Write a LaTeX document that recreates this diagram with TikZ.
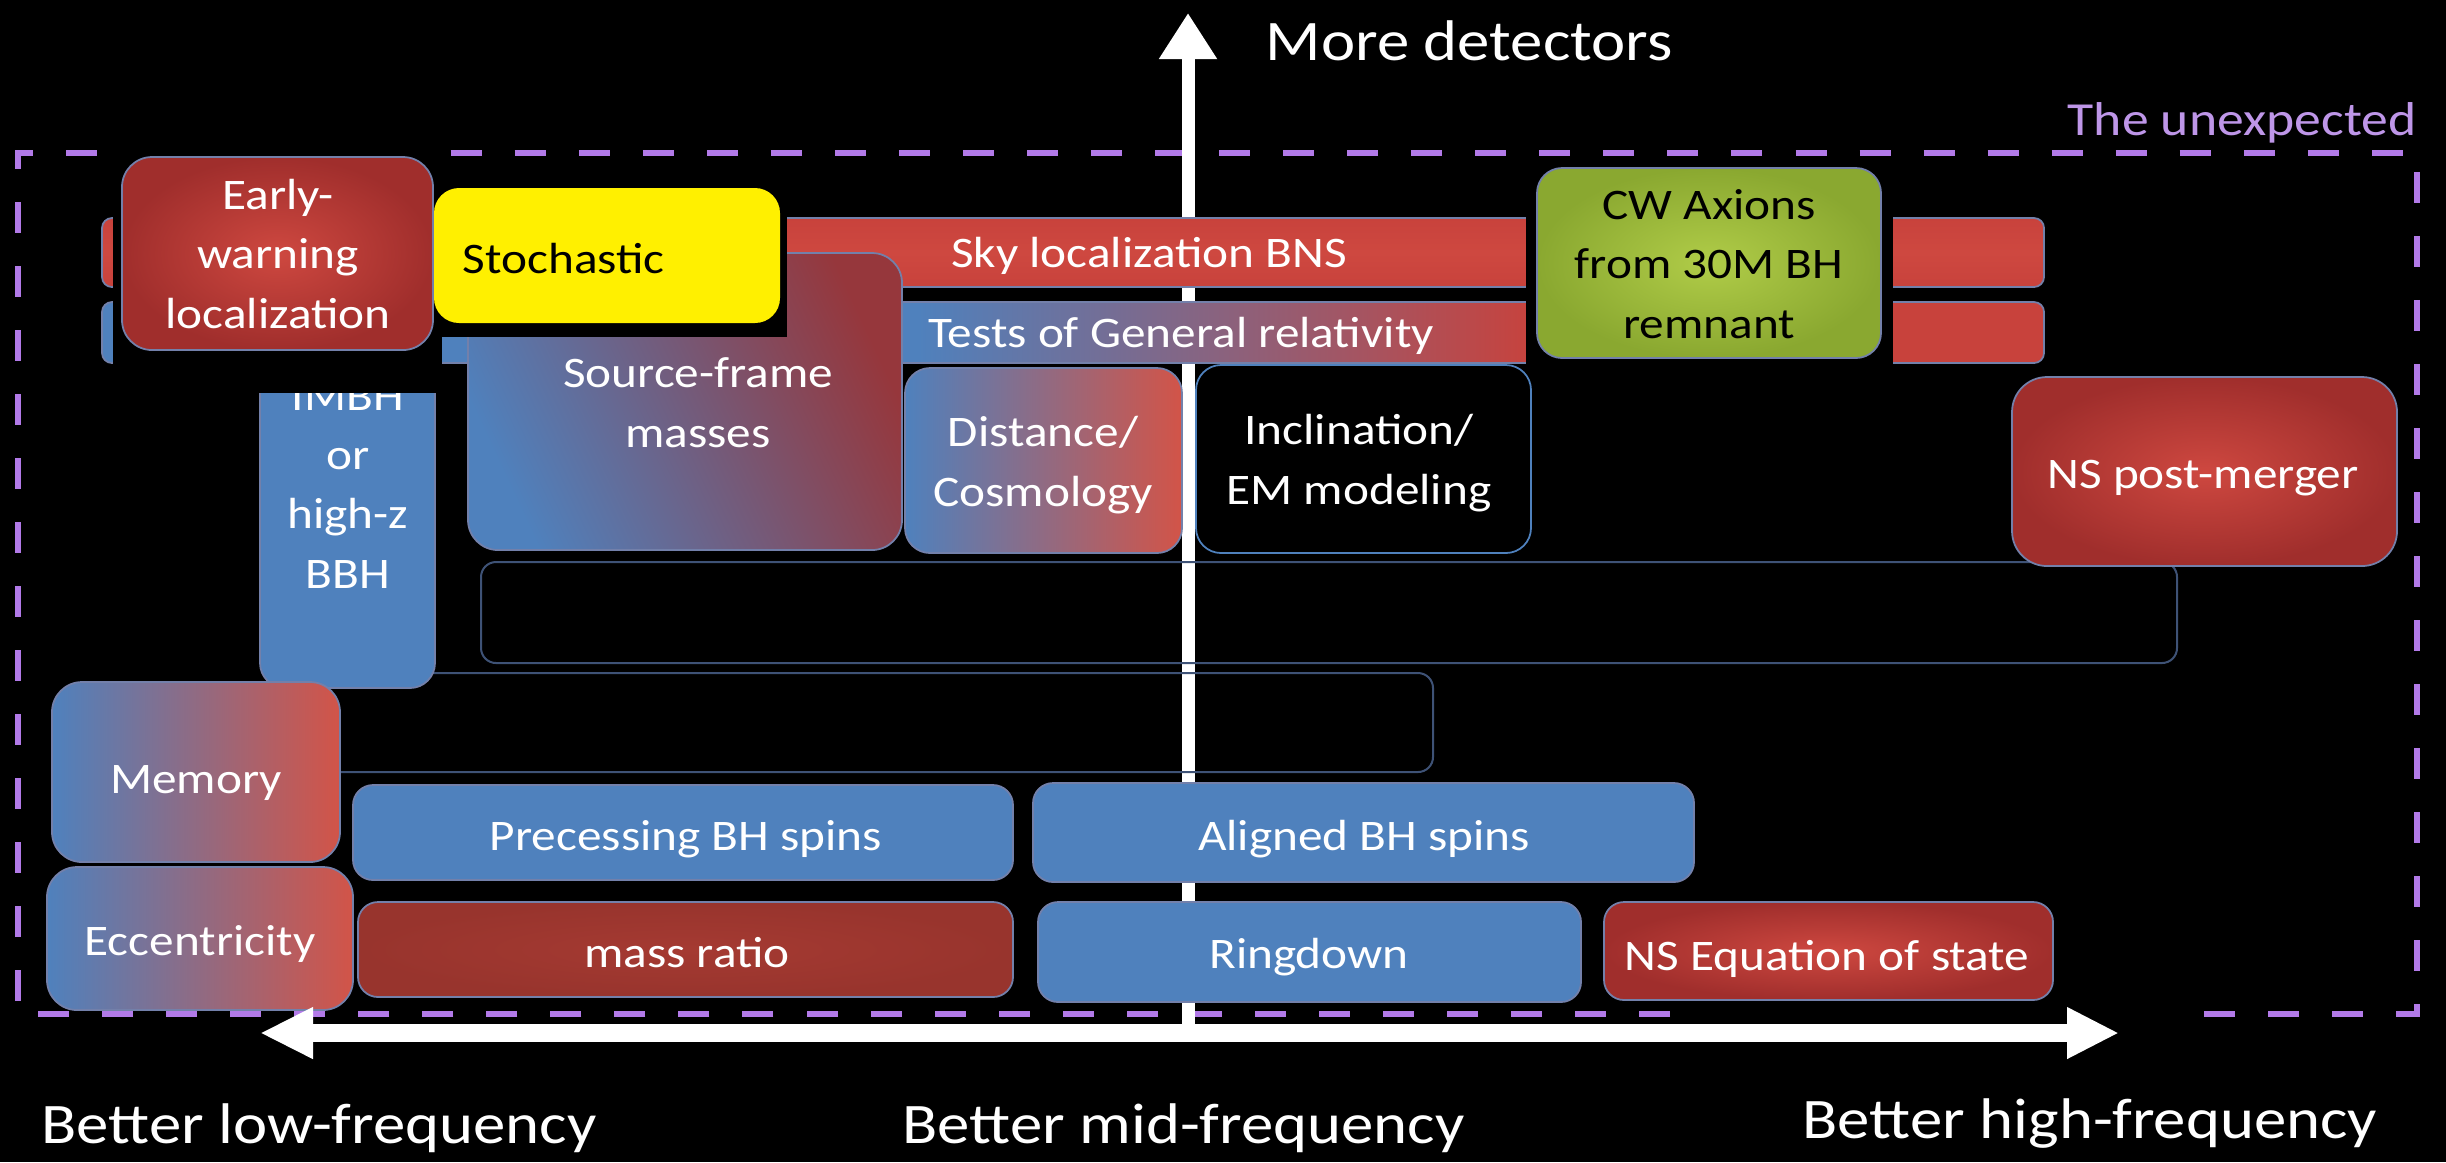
\documentclass[tikz,border=0pt]{standalone}
\usepackage{fontspec}
\setmainfont{Carlito}[FakeStretch=1.13]
\usetikzlibrary{arrows.meta,fit}
\definecolor{gwblue}{RGB}{79,129,189}
\definecolor{gwred}{RGB}{200,66,60}
\definecolor{gwredlt}{RGB}{206,72,64}
\definecolor{gwreddk}{RGB}{160,46,44}
\definecolor{gwmred}{RGB}{210,84,72}
\definecolor{gwsfred}{RGB}{150,55,60}
\definecolor{gwmass}{RGB}{152,52,45}
\definecolor{gwmasslt}{RGB}{165,58,50}
\definecolor{gwgreen}{RGB}{138,168,48}
\definecolor{gwgreenlt}{RGB}{176,204,72}
\definecolor{gwyellow}{RGB}{255,240,0}
\definecolor{gwpurp}{RGB}{178,122,232}
\definecolor{gwpurptxt}{RGB}{190,150,232}
\definecolor{gwedge}{RGB}{115,128,170}
\definecolor{gwoutline}{RGB}{62,82,118}
\pgfdeclarehorizontalshading{testshade}{100bp}{color(0bp)=(gwblue); color(46bp)=(gwblue); color(62bp)=(gwred); color(100bp)=(gwred)}
\newcommand\gwbox{\fontsize{12.4}{16.8}\selectfont}
\newcommand\gwaxis{\fontsize{16.3}{19}\selectfont}
\newcommand\gwunex{\fontsize{13.5}{16}\selectfont}
\begin{document}
\begin{tikzpicture}[x=0.01cm,y=-0.01cm,
  box/.style={inner sep=0pt, outer sep=0pt, rounded corners=0.2cm, draw=gwedge, line width=0.5pt},
  bluebox/.style={box, fill=gwblue},
  redbox/.style={box, inner color=gwredlt, outer color=gwreddk},
  mixbox/.style={box, left color=gwblue, right color=gwmred},
  txt/.style={text=white, font=\gwbox, inner sep=0pt, anchor=base, align=center},
  dtxt/.style={txt, text=black},
  axislbl/.style={text=white, font=\gwaxis, inner sep=0pt, anchor=base west},
  mask/.style={fill=black}
]
\fill[black] (0,0) rectangle (2446,1162);
\useasboundingbox (0,0) rectangle (2446,1162);

% dashed frame "The unexpected"
\draw[gwpurp, line width=0.06cm, dash pattern=on 0.31cm off 0.33cm]
  (1670,1014) -- (18,1014) -- (18,153) -- (2417,153) -- (2417,1014) -- (2196,1014);
\node[text=gwpurptxt, font=\gwunex, inner sep=0pt, anchor=base east] (unex) at (2417,135) {The unexpected};

% vertical axis
\coordinate (vbot) at (1188,1033);
\coordinate (vtop) at (1188,13);
\draw[white, line width=0.13cm, -{Triangle[length=0.46cm,width=0.55cm]}] (vbot) -- (vtop);
\node[axislbl] (more) at (1265,60) {More detectors};

% long bars
\node[box, fit={(102,218) (2044,287)}, rounded corners=0.1cm, top color=gwred, bottom color=gwred, middle color=gwredlt] (sky) {};
\node[box, fit={(102,302) (2044,363)}, rounded corners=0.1cm, shading=testshade] (tests) {};
\node[txt] (skyt) at (1149,267) {Sky localization BNS};
\node[txt] (testst) at (1181,347) {Tests of General relativity};

% CW axions
\fill[mask] (1526,160) rectangle (1893,366);
\node[box, fit={(1537,168) (1881,358)}, rounded corners=0.25cm, inner color=gwgreenlt, outer color=gwgreen] (cw) {};
\node[dtxt] (cwt) at (1709,338) {CW Axions\\from 30M BH\\remnant};

% Source-frame masses
\node[box, fit={(468,253) (902,550)}, rounded corners=0.3cm, left color=gwblue, right color=gwsfred, shading angle=115] (sf) {};
\node[txt] (sft) at (698,447) {Source-frame\\masses};

% outlined empty boxes
\node[inner sep=0pt, rounded corners=0.15cm, draw=gwoutline, line width=0.02cm, fit={(481,562) (2177,663)}] (emptyA) {};
\node[inner sep=0pt, rounded corners=0.15cm, draw=gwoutline, line width=0.02cm, fit={(300,673) (1433,772)}] (emptyB) {};

% IMBH
\node[bluebox, fit={(260,340) (435,688)}, rounded corners=0.25cm] (imbh) {};
\node[txt] (imbht) at (348,588) {IMBH\\or\\high-z\\BBH};

% masks around early warning and stochastic
\fill[mask] (113,145) rectangle (442,393);
\fill[mask] (434,182) rectangle (787,337);

% Stochastic
\node[box, fit={(434,188) (780,323)}, rounded corners=0.25cm, fill=gwyellow, draw=none] (stoch) {};
\node[dtxt, anchor=base west] (stocht) at (462,273) {Stochastic};

% Early warning
\node[redbox, fit={(122,157) (433,350)}, rounded corners=0.3cm] (ew) {};
\node[txt] (ewt) at (278,328) {Early-\\warning\\localization};

% Distance / Inclination
\node[mixbox, fit={(905,368) (1182,553)}, rounded corners=0.25cm] (dist) {};
\node[txt] (distt) at (1043,506) {Distance/\\Cosmology};
\node[box, fit={(1196,365) (1531,553)}, rounded corners=0.25cm, fill=black, draw=gwblue] (incl) {};
\node[txt] (inclt) at (1359,504) {Inclination/\\EM modeling};

% NS post-merger
\node[redbox, fit={(2012,377) (2397,566)}, rounded corners=0.35cm] (nspm) {};
\node[txt] (nspmt) at (2203,488) {NS post-merger};

% Memory / Eccentricity
\node[mixbox, fit={(52,682) (340,862)}, rounded corners=0.3cm] (mem) {};
\node[txt] (memt) at (196,793) {Memory};
\node[mixbox, fit={(47,867) (353,1010)}, rounded corners=0.3cm] (ecc) {};
\node[txt] (ecct) at (200,955) {Eccentricity};

% bottom rows
\node[bluebox, fit={(353,785) (1013,880)}] (prec) {};
\node[txt] (prect) at (686,850) {Precessing BH spins};
\node[bluebox, fit={(1033,783) (1694,882)}] (alig) {};
\node[txt] (aligt) at (1364,850) {Aligned BH spins};
\node[box, fit={(358,902) (1013,997)}, inner color=gwmasslt, outer color=gwmass] (mass) {};
\node[txt] (masst) at (687,967) {mass ratio};
\node[bluebox, fit={(1038,902) (1581,1002)}] (ring) {};
\node[txt] (ringt) at (1309,968) {Ringdown};
\node[redbox, fit={(1604,902) (2053,1000)}] (eos) {};
\node[txt] (eost) at (1827,970) {NS Equation of state};

% horizontal axis
\coordinate (hleft) at (260,1033);
\coordinate (hright) at (2119,1033);
\draw[white, line width=0.18cm, {Triangle[length=0.53cm,width=0.48cm]}-{Triangle[length=0.52cm,width=0.48cm]}] (hleft) -- (hright);

\node[axislbl] (low) at (41,1143) {Better low-frequency};
\node[axislbl] (mid) at (902,1143) {Better mid-frequency};
\node[axislbl] (high) at (1802,1138) {Better high-frequency};
\end{tikzpicture}
\end{document}
